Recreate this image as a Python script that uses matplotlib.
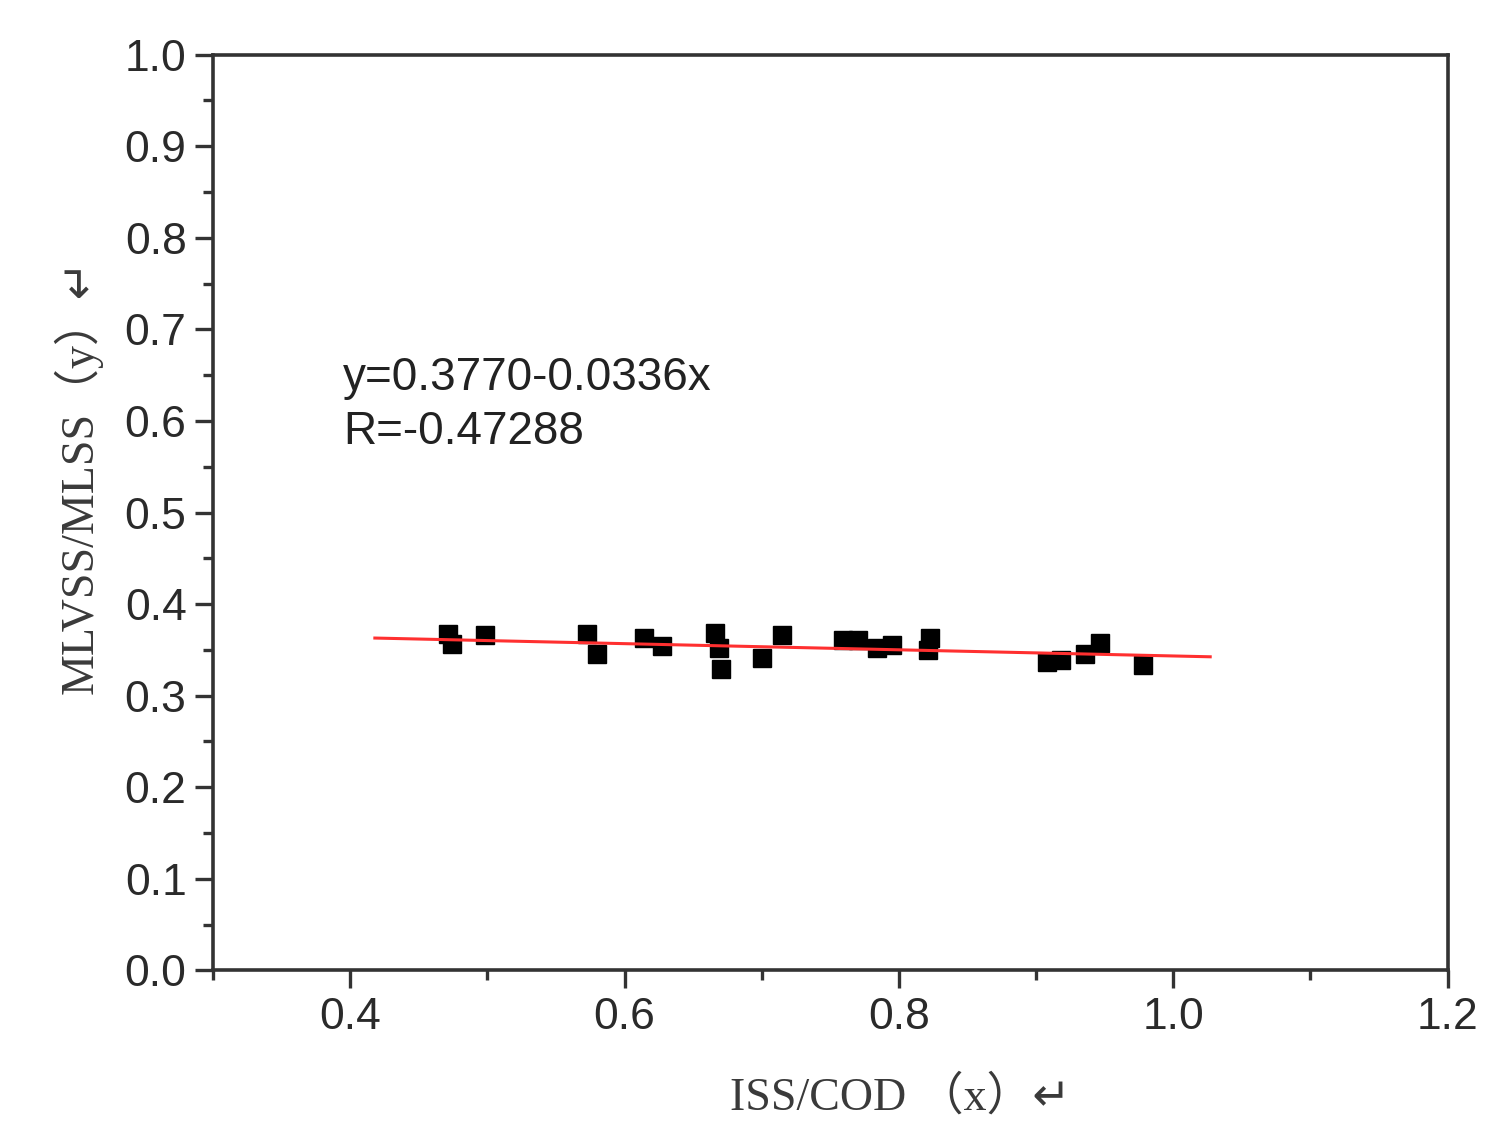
import matplotlib
matplotlib.use('Agg')
import matplotlib.pyplot as plt
import numpy as np
from matplotlib.ticker import MultipleLocator

# data
x_vals = [0.471, 0.474, 0.498, 0.573, 0.580, 0.614, 0.627, 0.666, 0.669, 0.670,
          0.700, 0.715, 0.759, 0.770, 0.784, 0.795, 0.823, 0.821, 0.908, 0.918,
          0.936, 0.947, 0.978]
y_vals = [0.367, 0.357, 0.366, 0.367, 0.346, 0.363, 0.354, 0.368, 0.352, 0.329,
          0.341, 0.366, 0.361, 0.361, 0.352, 0.355, 0.363, 0.350, 0.337, 0.339,
          0.346, 0.358, 0.333]

fit_a = 0.3770
fit_b = -0.0336
fit_x = [0.418, 1.027]
fit_text = ['y=0.3770-0.0336x', 'R=-0.47288']

xlabel = 'ISS/COD \uff08x\uff09\u21b5'
ylabel = 'MLVSS/MLSS\uff08y\uff09\u21b5'

tick_col = '#333333'
label_fonts = ['Liberation Serif', 'Noto Sans CJK SC', 'DejaVu Sans']

fig = plt.figure(figsize=(15, 11.39), dpi=100)
ax = fig.add_axes([0.142, 0.148, 0.823, 0.804])

ax.plot(x_vals, y_vals, 's', color='black', ms=13, zorder=3)

lx = np.array(fit_x)
ax.plot(lx, fit_a + fit_b * lx, color='#ff3030', lw=2.2, zorder=4)

ax.text(0.395, 0.647, fit_text[0], fontsize=33, family='Liberation Sans',
        color='#222222', va='center')
ax.text(0.395, 0.588, fit_text[1], fontsize=33, family='Liberation Sans',
        color='#222222', va='center')

ax.set_xlim(0.3, 1.2)
ax.set_ylim(0.0, 1.0)
ax.xaxis.set_major_locator(MultipleLocator(0.2))
ax.xaxis.set_minor_locator(MultipleLocator(0.1))
ax.yaxis.set_major_locator(MultipleLocator(0.1))
ax.yaxis.set_minor_locator(MultipleLocator(0.05))
ax.set_xticks([0.4, 0.6, 0.8, 1.0, 1.2])
ax.set_xticklabels(['0.4', '0.6', '0.8', '1.0', '1.2'])
ax.set_yticks(np.arange(0, 11) / 10)
ax.set_yticklabels(['%.1f' % v for v in np.arange(0, 11) / 10])

ax.tick_params(which='major', direction='out', length=13, width=2.4,
               color=tick_col, labelsize=32, labelcolor='#2a2a2a', pad=6)
ax.tick_params(which='minor', direction='out', length=7, width=2.4, color=tick_col)
for lab in ax.get_xticklabels() + ax.get_yticklabels():
    lab.set_family('Liberation Sans')

for sp in ax.spines.values():
    sp.set_linewidth(2.6)
    sp.set_color(tick_col)

ax.set_xlabel(xlabel, fontsize=33, family=label_fonts, color='#3a3a3a', va='center')
ax.set_ylabel(ylabel, fontsize=33, family=label_fonts, color='#3a3a3a', va='center')
ax.xaxis.set_label_coords(0.557, -0.139)
ax.yaxis.set_label_coords(-0.109, 0.54)

fig.savefig('out.png', dpi=100)
